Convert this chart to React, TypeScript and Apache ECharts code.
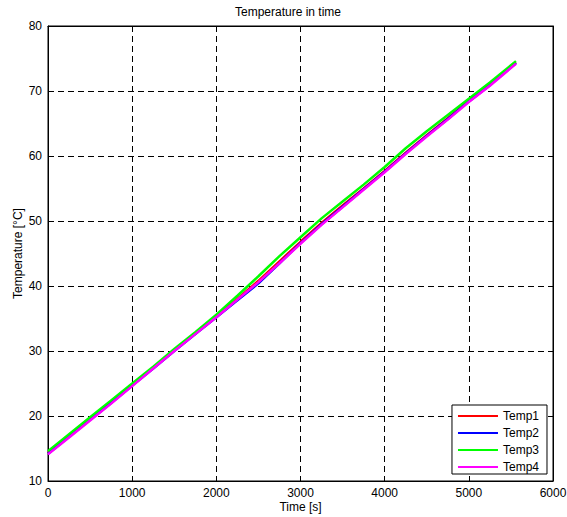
import React, { useEffect, useRef } from "react";
import * as echarts from "echarts";

const times = [0, 250, 500, 750, 1000, 1250, 1500, 1750, 2000, 2250, 2500, 2750, 3000, 3250, 3500, 3750, 4000, 4250, 4500, 4750, 5000, 5250, 5560];
const temp1 = [14.3, 16.9, 19.5, 22.1, 24.8, 27.4, 30.1, 32.7, 35.3, 38.0, 40.8, 43.8, 46.8, 49.7, 52.4, 55.0, 57.7, 60.5, 63.2, 65.8, 68.5, 71.0, 74.4];
const temp2 = [14.2, 16.8, 19.4, 22.0, 24.7, 27.3, 30.0, 32.6, 35.2, 37.8, 40.4, 43.5, 46.6, 49.5, 52.2, 54.9, 57.6, 60.4, 63.1, 65.7, 68.4, 70.9, 74.3];
const temp3 = [14.6, 17.2, 19.8, 22.4, 25.0, 27.6, 30.3, 32.9, 35.6, 38.5, 41.5, 44.6, 47.5, 50.4, 53.0, 55.6, 58.3, 61.2, 63.8, 66.3, 68.8, 71.3, 74.6];
const temp4 = [14.1, 16.7, 19.3, 21.9, 24.6, 27.3, 30.0, 32.6, 35.2, 37.9, 40.6, 43.5, 46.5, 49.4, 52.1, 54.8, 57.5, 60.3, 63.0, 65.6, 68.3, 70.8, 74.2];

const seriesNames = ["Temp1", "Temp2", "Temp3", "Temp4"];
const seriesColors = ["#ff0000", "#0000ff", "#00ff00", "#ff00ff"];
const seriesValues = [temp1, temp2, temp3, temp4];

const FONT = "Liberation Sans, Arial, sans-serif";

export default function App() {
  const ref = useRef<HTMLDivElement>(null);
  useEffect(() => {
    if (!ref.current) return;
    const chart = echarts.init(ref.current, undefined, { renderer: "svg" });
    const axisCommon = {
      axisLine: { show: true, onZero: false, lineStyle: { color: "#000", width: 1 } },
      axisTick: { show: true, inside: true, length: 5, lineStyle: { color: "#000" } },
    };
    chart.setOption({
      animation: false,
      backgroundColor: "#fff",
      textStyle: { fontFamily: FONT },
      title: {
        text: "Temperature in time",
        left: 283,
        textAlign: "center",
        top: 1,
        textStyle: { fontSize: 12, fontWeight: "normal", color: "#000", fontFamily: FONT },
      },
      grid: {
        left: 48,
        top: 26,
        width: 505,
        height: 455,
        outerBoundsMode: "none",
        containLabel: false,
        show: true,
        borderColor: "#000",
        borderWidth: 1,
        backgroundColor: "#fff",
      },
      legend: {
        data: seriesNames.map((n) => ({ name: n, icon: "rect" })),
        orient: "vertical",
        right: 20,
        bottom: 43,
        itemWidth: 40,
        itemHeight: 2,
        itemGap: 5,
        padding: [5, 8, 1, 6],
        backgroundColor: "#fff",
        borderColor: "#000",
        borderWidth: 1,
        borderRadius: 0,
        textStyle: { fontSize: 12, color: "#000", fontFamily: FONT },
      },
      xAxis: [
        {
          type: "value",
          min: 0,
          max: 6000,
          interval: 1000,
          name: "Time [s]",
          nameLocation: "middle",
          nameGap: 20,
          nameMoveOverlap: false,
          nameTextStyle: { fontSize: 12, color: "#000", fontFamily: FONT },
          axisLabel: { color: "#000", fontSize: 12, margin: 6, fontFamily: FONT, formatter: (v: number) => String(v) },
          splitLine: { show: true, lineStyle: { color: "#000", type: [6, 4], width: 1 } },
          ...axisCommon,
        },
        {
          type: "value",
          position: "top",
          min: 0,
          max: 6000,
          interval: 1000,
          axisLabel: { show: false },
          splitLine: { show: false },
          ...axisCommon,
        },
      ],
      yAxis: [
        {
          type: "value",
          min: 10,
          max: 80,
          interval: 10,
          name: "Temperature [°C]",
          nameLocation: "middle",
          nameGap: 24,
          nameMoveOverlap: false,
          nameTextStyle: { fontSize: 12, color: "#000", fontFamily: FONT },
          axisLabel: { color: "#000", fontSize: 12, margin: 6, fontFamily: FONT, formatter: (v: number) => String(v) },
          splitLine: { show: true, lineStyle: { color: "#000", type: [6, 4], width: 1 } },
          ...axisCommon,
        },
        {
          type: "value",
          position: "right",
          min: 10,
          max: 80,
          interval: 10,
          axisLabel: { show: false },
          splitLine: { show: false },
          ...axisCommon,
        },
      ],
      series: seriesNames.map((name, i) => ({
        name,
        type: "line",
        symbol: "none",
        color: seriesColors[i],
        lineStyle: { width: 2.5, color: seriesColors[i] },
        data: times.map((t, j) => [t, seriesValues[i][j]]),
      })),
    });
    return () => chart.dispose();
  }, []);
  return <div ref={ref} style={{ position: "absolute", left: 0, top: 0, width: 567, height: 517 }} />;
}
